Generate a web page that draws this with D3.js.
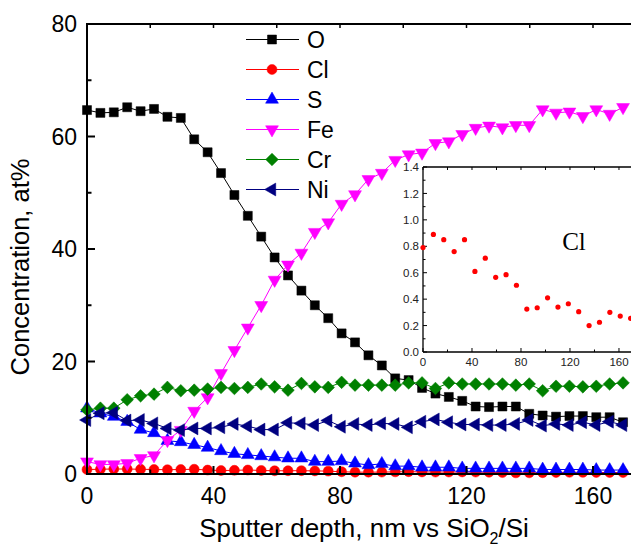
<!DOCTYPE html>
<html>
<head>
<meta charset="utf-8">
<script src="https://cdn.jsdelivr.net/npm/d3@7"></script>
<style>
  html, body { margin: 0; padding: 0; background: #fff; }
  svg { display: block; }
  text { font-family: "Liberation Sans", Arial, sans-serif; }
</style>
</head>
<body>
<svg id="chart" width="631" height="546"></svg>
<script>
// ---------------- DATA ----------------
const depth = [0, 4.24, 8.48, 12.71, 16.95, 21.19, 25.43, 29.66, 33.9, 38.14, 42.38, 46.61, 50.85, 55.09, 59.33, 63.56, 67.8, 72.04, 76.28, 80.51, 84.75, 88.99, 93.23, 97.46, 101.7, 105.94, 110.18, 114.41, 118.65, 122.89, 127.13, 131.36, 135.6, 139.84, 144.08, 148.31, 152.55, 156.79, 161.03, 165.26, 169.5];

const O  = [64.7, 64.2, 64.3, 65.2, 64.5, 64.9, 63.5, 63.3, 59.5, 57.2, 53.5, 49.6, 45.9, 42.2, 38.5, 35.3, 32.6, 30.0, 27.7, 25.0, 23.4, 21.1, 19.3, 17.0, 16.7, 15.3, 14.3, 13.7, 13.0, 12.0, 11.9, 12.0, 12.0, 10.7, 10.4, 10.2, 10.3, 10.3, 10.1, 10.1, 9.2];
const Cl = [0.79, 0.85, 0.89, 0.88, 0.85, 0.80, 0.76, 0.80, 0.85, 0.70, 0.61, 0.66, 0.71, 0.63, 0.57, 0.58, 0.59, 0.55, 0.51, 0.40, 0.33, 0.33, 0.34, 0.38, 0.41, 0.37, 0.34, 0.35, 0.37, 0.34, 0.31, 0.25, 0.20, 0.21, 0.23, 0.27, 0.30, 0.29, 0.27, 0.26, 0.26];
const S  = [11.7, 10.8, 10.2, 9.3, 7.9, 7.3, 5.9, 5.7, 5.2, 4.7, 4.1, 3.6, 3.4, 3.2, 3.0, 2.8, 2.8, 2.2, 2.2, 2.3, 1.9, 1.6, 1.8, 1.4, 1.4, 1.2, 1.2, 1.2, 1.0, 1.0, 1.0, 1.0, 1.0, 1.0, 0.8, 0.8, 0.8, 0.8, 0.7, 0.7, 0.7];
const Fe = [2.2, 1.7, 1.7, 1.9, 2.8, 3.3, 6.0, 7.8, 11.2, 13.6, 17.9, 22.0, 26.0, 30.0, 34.5, 37.2, 39.3, 43.0, 44.7, 48.0, 49.7, 52.4, 53.5, 55.8, 56.8, 57.1, 58.8, 59.1, 60.4, 61.5, 61.9, 61.6, 62.0, 62.0, 64.8, 64.2, 64.4, 63.6, 64.8, 64.0, 65.2];
const Cr = [11.4, 11.7, 11.7, 13.2, 13.9, 14.2, 15.4, 14.8, 14.9, 15.1, 15.4, 15.2, 15.4, 16.0, 15.5, 14.9, 16.1, 15.5, 15.4, 16.3, 15.8, 15.8, 15.8, 15.8, 16.2, 16.2, 15.2, 16.2, 16.0, 16.0, 16.0, 16.0, 15.8, 16.0, 14.8, 15.6, 15.6, 15.5, 15.6, 16.0, 16.2];
const Ni = [9.6, 10.8, 10.9, 9.5, 9.6, 9.0, 8.1, 7.8, 8.1, 8.1, 8.3, 8.9, 8.5, 7.9, 7.9, 9.1, 9.0, 8.7, 9.5, 8.4, 8.9, 8.7, 9.0, 8.9, 8.3, 9.3, 9.7, 9.2, 8.8, 8.8, 8.7, 8.7, 8.9, 9.6, 8.6, 8.9, 8.7, 9.2, 8.7, 9.3, 8.7];

const seriesNames  = ["O", "Cl", "S", "Fe", "Cr", "Ni"];
const seriesColors = ["#000000", "#ff0000", "#0000ff", "#ff00ff", "#008000", "#000080"];
const seriesValues = [O, Cl, S, Fe, Cr, Ni];

const xTicks = [0, 40, 80, 120, 160];
const yTicks = [0, 20, 40, 60, 80];

const insetDepth = [0, 8.48, 16.95, 25.43, 33.9, 42.38, 50.85, 59.33, 67.8, 76.28, 84.75, 93.23, 101.7, 110.18, 118.65, 127.13, 135.6, 144.08, 152.55, 161.03, 169.5];
const insetCl = [0.79, 0.89, 0.85, 0.76, 0.85, 0.61, 0.71, 0.565, 0.585, 0.505, 0.325, 0.335, 0.41, 0.34, 0.365, 0.305, 0.20, 0.225, 0.30, 0.272, 0.255];
const insetXTicks = [0, 40, 80, 120, 160];
const insetYTicks = [0.0, 0.2, 0.4, 0.6, 0.8, 1.0, 1.2, 1.4];

// ---------------- LAYOUT ----------------
const svg = d3.select("#chart");
const L = 87, R = 631, T = 24, B = 474;
const x = d3.scaleLinear().domain([0, 171.7]).range([L, 630]);
const y = d3.scaleLinear().domain([0, 80]).range([B, T]);

// Markers
const triArea = 72;
const markerDefs = {
  "O":  { type: d3.symbolSquare,   size: 81, rot: 0 },
  "Cl": { type: d3.symbolCircle,   size: 78, rot: 0 },
  "S":  { type: d3.symbolTriangle, size: triArea, rot: 0 },
  "Fe": { type: d3.symbolTriangle, size: triArea, rot: 180 },
  "Cr": { type: d3.symbolSquare,   size: 80, rot: 45 },
  "Ni": { type: d3.symbolTriangle, size: triArea, rot: -90 }
};
function drawMarker(g, name, color, cx, cy) {
  const m = markerDefs[name];
  g.append("path")
    .attr("d", d3.symbol().type(m.type).size(m.size)())
    .attr("transform", `translate(${cx},${cy}) rotate(${m.rot})`)
    .attr("fill", color)
    .attr("stroke", color)
    .attr("stroke-width", 0.5);
}

// Series
const plotG = svg.append("g");
seriesNames.forEach((name, si) => {
  const vals = seriesValues[si];
  const color = seriesColors[si];
  const data = depth.map((d, i) => [d, vals[i]]);
  plotG.append("path")
    .datum(data)
    .attr("fill", "none")
    .attr("stroke", color)
    .attr("stroke-width", 1)
    .attr("d", d3.line().x(d => x(d[0])).y(d => y(d[1])));
  const mg = plotG.append("g");
  data.forEach(d => drawMarker(mg, name, color, x(d[0]), y(d[1])));
});

// Axes (main)
const axG = svg.append("g");
axG.append("line").attr("x1", L).attr("x2", L).attr("y1", T - 1).attr("y2", B + 1)
  .attr("stroke", "#000").attr("stroke-width", 2);
axG.append("line").attr("x1", L - 1).attr("x2", R).attr("y1", T).attr("y2", T)
  .attr("stroke", "#000").attr("stroke-width", 2);
axG.append("line").attr("x1", L - 1).attr("x2", R).attr("y1", B).attr("y2", B)
  .attr("stroke", "#000").attr("stroke-width", 2);

d3.range(0, 81, 10).forEach(v => {
  const major = v % 20 === 0;
  axG.append("line").attr("x1", L).attr("x2", L + (major ? 8 : 4.5))
    .attr("y1", y(v)).attr("y2", y(v)).attr("stroke", "#000").attr("stroke-width", 2);
});
yTicks.forEach(v => {
  axG.append("text").attr("x", L - 10).attr("y", y(v)).attr("dy", "0.36em")
    .attr("text-anchor", "end").attr("font-size", 23).text(v);
});
d3.range(0, 171, 20).forEach(v => {
  const major = v % 40 === 0;
  axG.append("line").attr("x1", x(v)).attr("x2", x(v))
    .attr("y1", B).attr("y2", B - (major ? 8 : 4.5)).attr("stroke", "#000").attr("stroke-width", 2);
  axG.append("line").attr("x1", x(v)).attr("x2", x(v))
    .attr("y1", T).attr("y2", T + 4).attr("stroke", "#000").attr("stroke-width", 1.5);
});
xTicks.forEach(v => {
  axG.append("text").attr("x", x(v)).attr("y", 504)
    .attr("text-anchor", "middle").attr("font-size", 23).text(v);
});

// Axis titles
const xt = axG.append("text").attr("x", 364).attr("y", 537)
  .attr("text-anchor", "middle").attr("font-size", 26);
xt.append("tspan").text("Sputter depth, nm vs SiO");
xt.append("tspan").attr("font-size", 16).attr("dy", 7).text("2");
xt.append("tspan").attr("dy", -7).text("/Si");

axG.append("text").attr("transform", "translate(29,267) rotate(-90)")
  .attr("text-anchor", "middle").attr("font-size", 25.5).text("Concentration, at%");

// Legend
const legG = svg.append("g");
seriesNames.forEach((name, i) => {
  const ly = 39.5 + i * 30;
  legG.append("line").attr("x1", 246).attr("x2", 299).attr("y1", ly).attr("y2", ly)
    .attr("stroke", seriesColors[i]).attr("stroke-width", 1);
  drawMarker(legG, name, seriesColors[i], 272, ly);
  legG.append("text").attr("x", 307).attr("y", ly).attr("dy", "0.36em")
    .attr("font-size", 23).text(name);
});

// ---------------- INSET ----------------
const iL = 423, iR = 631, iT = 167, iB = 352;
const ix = d3.scaleLinear().domain([0, 169]).range([iL, 630]);
const iy = d3.scaleLinear().domain([0, 1.4]).range([iB, iT]);
const inG = svg.append("g");
inG.append("rect").attr("x", iL).attr("y", iT).attr("width", iR - iL).attr("height", iB - iT)
  .attr("fill", "#fff");
inG.append("line").attr("x1", iL).attr("x2", iL).attr("y1", iT).attr("y2", iB)
  .attr("stroke", "#000").attr("stroke-width", 1.3);
inG.append("line").attr("x1", iL).attr("x2", iR).attr("y1", iT).attr("y2", iT)
  .attr("stroke", "#000").attr("stroke-width", 1.3);
inG.append("line").attr("x1", iL).attr("x2", iR).attr("y1", iB).attr("y2", iB)
  .attr("stroke", "#000").attr("stroke-width", 1.3);

d3.range(0, 15).forEach(k => {
  const v = k / 10;
  const major = k % 2 === 0;
  inG.append("line").attr("x1", iL).attr("x2", iL + (major ? 4 : 2.5))
    .attr("y1", iy(v)).attr("y2", iy(v)).attr("stroke", "#000").attr("stroke-width", 1);
});
insetYTicks.forEach(v => {
  inG.append("text").attr("x", iL - 4).attr("y", iy(v)).attr("dy", "0.36em")
    .attr("text-anchor", "end").attr("font-size", 11.5).attr("fill", "#222").text(v.toFixed(1));
});
d3.range(0, 170, 20).forEach(v => {
  const major = v % 40 === 0;
  inG.append("line").attr("x1", ix(v)).attr("x2", ix(v))
    .attr("y1", iB).attr("y2", iB - (major ? 4 : 2.5)).attr("stroke", "#000").attr("stroke-width", 1);
  inG.append("line").attr("x1", ix(v)).attr("x2", ix(v))
    .attr("y1", iT).attr("y2", iT + 3).attr("stroke", "#000").attr("stroke-width", 1);
});
insetXTicks.forEach(v => {
  inG.append("text").attr("x", ix(v)).attr("y", iB + 14)
    .attr("text-anchor", "middle").attr("font-size", 11.5).attr("fill", "#222").text(v);
});
insetDepth.forEach((d, i) => {
  inG.append("circle").attr("cx", ix(d)).attr("cy", iy(insetCl[i])).attr("r", 2.6)
    .attr("fill", "#ff0000");
});
inG.append("text").attr("x", 574).attr("y", 250).attr("text-anchor", "middle")
  .style("font-family", "'Liberation Serif', 'Times New Roman', serif")
  .attr("font-size", 25).text("Cl");
</script>
</body>
</html>
